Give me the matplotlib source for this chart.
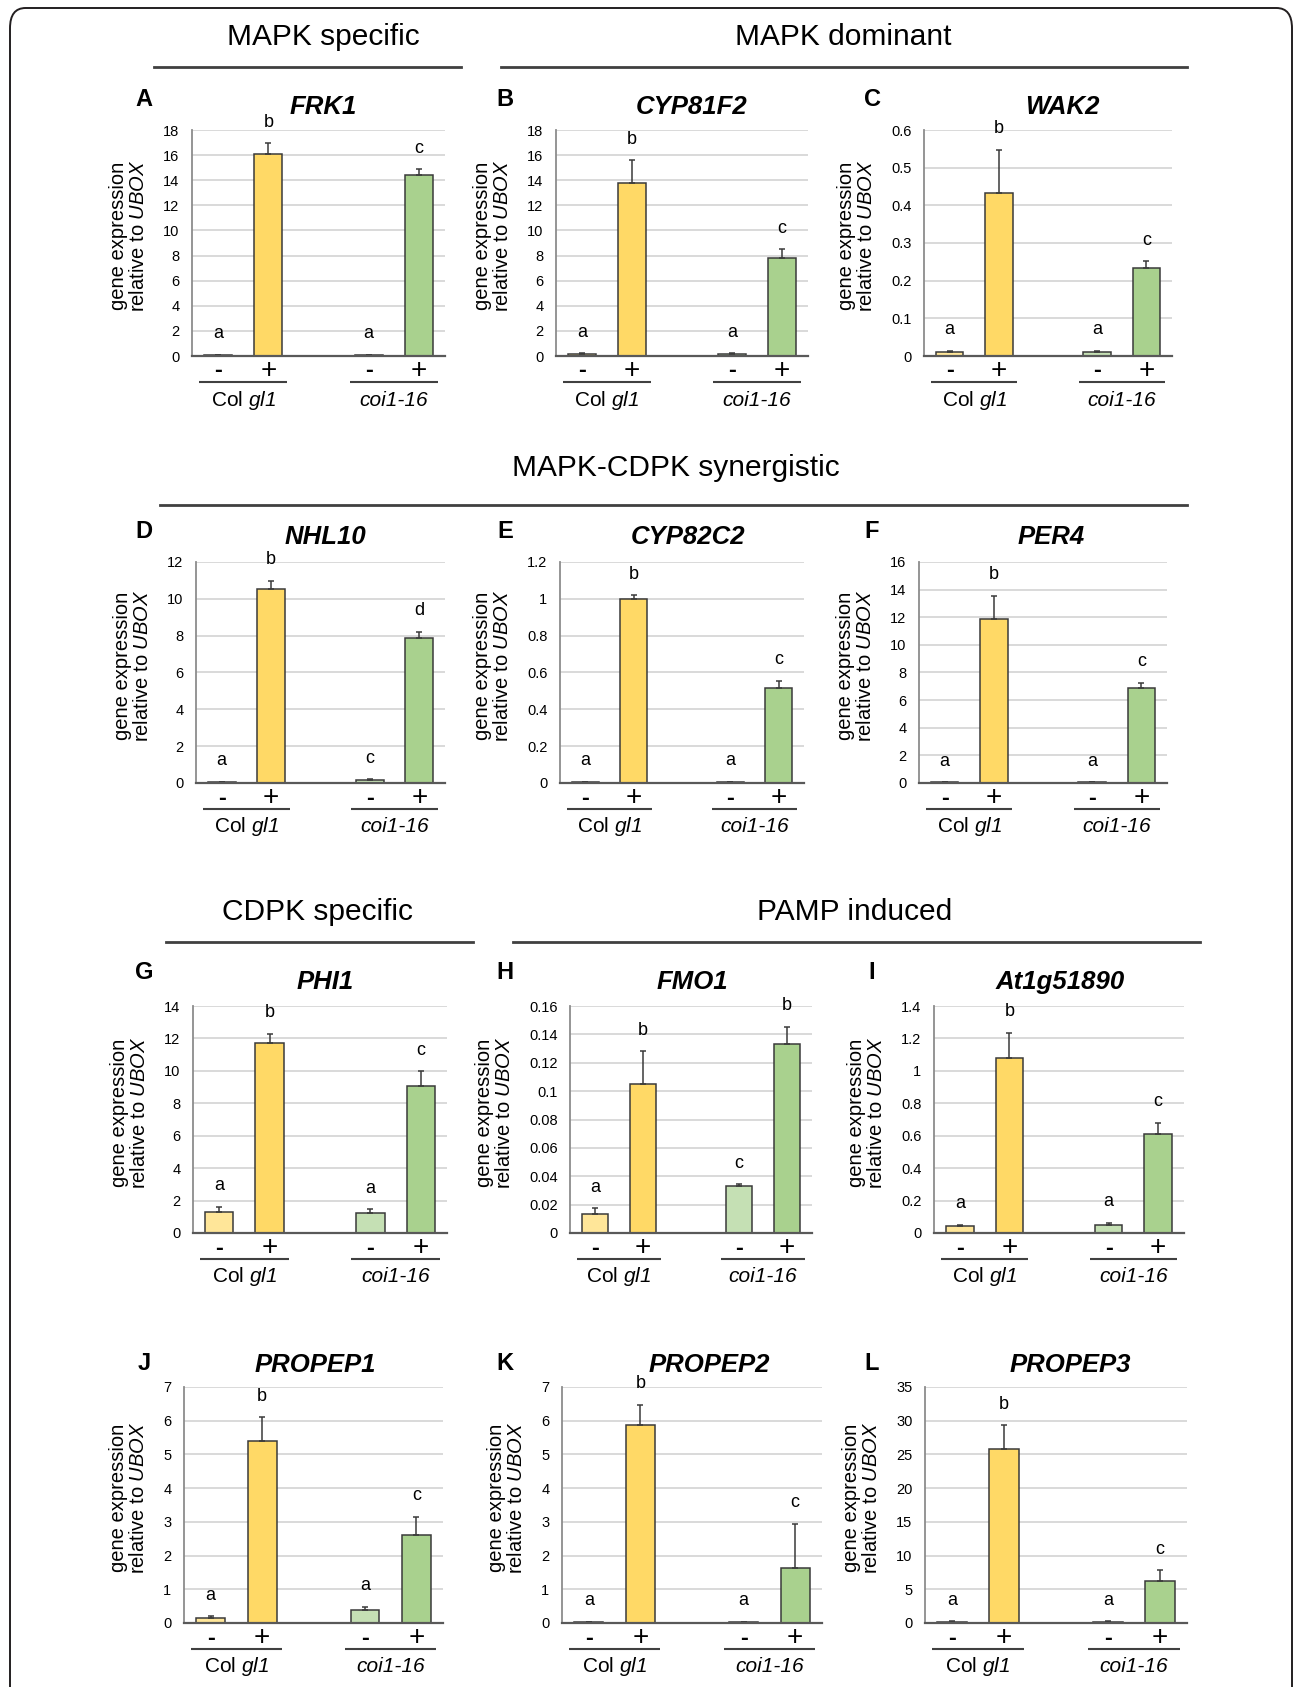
import matplotlib
matplotlib.use('Agg')
import matplotlib.pyplot as plt
from matplotlib import transforms
from matplotlib.patches import FancyBboxPatch
from matplotlib.lines import Line2D
from matplotlib.ticker import FuncFormatter, MultipleLocator

plt.rcParams['font.family'] = ['Liberation Sans', 'DejaVu Sans']
plt.rcParams['mathtext.fontset'] = 'custom'
plt.rcParams['mathtext.rm'] = 'Liberation Sans'
plt.rcParams['mathtext.it'] = 'Liberation Sans:italic'
plt.rcParams['mathtext.sf'] = 'Liberation Sans:italic'
plt.rcParams['mathtext.bf'] = 'Liberation Sans:bold'

# ---------------- data ----------------
panel_letters = ['A', 'B', 'C', 'D', 'E', 'F', 'G', 'H', 'I', 'J', 'K', 'L']
genes = ['FRK1', 'CYP81F2', 'WAK2', 'NHL10', 'CYP82C2', 'PER4',
         'PHI1', 'FMO1', 'At1g51890', 'PROPEP1', 'PROPEP2', 'PROPEP3']
conditions = ['-', '+', '-', '+']
genotypes = ['Col $\\mathsf{gl1}$', 'coi1-16']

# order of bars: Col gl1 (-), Col gl1 (+), coi1-16 (-), coi1-16 (+)
means = {
    'FRK1':      [0.08, 16.1, 0.08, 14.45],
    'CYP81F2':   [0.18, 13.8, 0.15, 7.77],
    'WAK2':      [0.010, 0.434, 0.0115, 0.233],
    'NHL10':     [0.05, 10.56, 0.18, 7.9],
    'CYP82C2':   [0.005, 1.0, 0.005, 0.514],
    'PER4':      [0.05, 11.84, 0.05, 6.88],
    'PHI1':      [1.28, 11.73, 1.23, 9.09],
    'FMO1':      [0.0136, 0.105, 0.0328, 0.1333],
    'At1g51890': [0.041, 1.081, 0.049, 0.613],
    'PROPEP1':   [0.16, 5.39, 0.40, 2.6],
    'PROPEP2':   [0.03, 5.86, 0.03, 1.63],
    'PROPEP3':   [0.2, 25.75, 0.2, 6.25],
}
errors = {
    'FRK1':      [0.02, 0.85, 0.02, 0.43],
    'CYP81F2':   [0.05, 1.8, 0.05, 0.72],
    'WAK2':      [0.004, 0.113, 0.003, 0.018],
    'NHL10':     [0.01, 0.41, 0.02, 0.3],
    'CYP82C2':   [0.001, 0.02, 0.001, 0.04],
    'PER4':      [0.01, 1.7, 0.01, 0.37],
    'PHI1':      [0.33, 0.55, 0.25, 0.89],
    'FMO1':      [0.004, 0.023, 0.0016, 0.012],
    'At1g51890': [0.01, 0.155, 0.014, 0.066],
    'PROPEP1':   [0.04, 0.72, 0.08, 0.55],
    'PROPEP2':   [0.01, 0.61, 0.01, 1.31],
    'PROPEP3':   [0.05, 3.55, 0.05, 1.55],
}
sig = {
    'FRK1': ['a', 'b', 'a', 'c'], 'CYP81F2': ['a', 'b', 'a', 'c'],
    'WAK2': ['a', 'b', 'a', 'c'], 'NHL10': ['a', 'b', 'c', 'd'],
    'CYP82C2': ['a', 'b', 'a', 'c'], 'PER4': ['a', 'b', 'a', 'c'],
    'PHI1': ['a', 'b', 'a', 'c'], 'FMO1': ['a', 'b', 'c', 'b'],
    'At1g51890': ['a', 'b', 'a', 'c'], 'PROPEP1': ['a', 'b', 'a', 'c'],
    'PROPEP2': ['a', 'b', 'a', 'c'], 'PROPEP3': ['a', 'b', 'a', 'c'],
}
y_max = {'FRK1': 18, 'CYP81F2': 18, 'WAK2': 0.6, 'NHL10': 12, 'CYP82C2': 1.2,
         'PER4': 16, 'PHI1': 14, 'FMO1': 0.16, 'At1g51890': 1.4,
         'PROPEP1': 7, 'PROPEP2': 7, 'PROPEP3': 35}
y_step = {'FRK1': 2, 'CYP81F2': 2, 'WAK2': 0.1, 'NHL10': 2, 'CYP82C2': 0.2,
          'PER4': 2, 'PHI1': 2, 'FMO1': 0.02, 'At1g51890': 0.2,
          'PROPEP1': 1, 'PROPEP2': 1, 'PROPEP3': 5}

headers = ['MAPK specific', 'MAPK dominant', 'MAPK-CDPK synergistic',
           'CDPK specific', 'PAMP induced']

# ---------------- layout (pixels) ----------------
W, H = 1295, 1687
DPI = 100
bar_x = [0, 1, 3, 4]
group_x = [0.5, 3.5]
colors = ['#FFE699', '#FFD966', '#C5E0B4', '#A9D18E']

# axes boxes: left, top, right, bottom
boxes = [
    (192, 130, 445, 356), (556, 130, 808, 356), (924, 130, 1172, 356),
    (196, 562, 445, 783), (560, 562, 804, 783), (919, 562, 1167, 783),
    (193, 1006, 447, 1233), (570, 1006, 812, 1233), (934, 1006, 1184, 1233),
    (184, 1387, 443, 1623), (562, 1387, 822, 1623), (925, 1387, 1187, 1623),
]
letter_pos_x = [144, 505, 872]
letter_pos_y = [100, 532, 973, 1363]
title_y = [107, 537, 982, 1365]
title_x = [323, 692, 1062, 325, 688, 1051, 325, 692, 1060, 315, 709, 1070]

header_layout = [  # text center x, text y, line x0, line x1, line y
    (323, 37, 154, 461, 67),
    (843, 37, 501, 1187, 67),
    (676, 468, 160, 1187, 505),
    (317, 912, 166, 473, 942),
    (855, 912, 513, 1200, 942),
]

fig = plt.figure(figsize=(W / DPI, H / DPI), dpi=DPI)
fig.patch.set_facecolor('white')


def fx(x):
    return x / W


def fy(y):
    return 1 - y / H


# border
border = FancyBboxPatch((fx(10), fy(1720)), fx(1292) - fx(10), fy(8) - fy(1720),
                        boxstyle='round,pad=0,rounding_size=0.012',
                        transform=fig.transFigure, facecolor='none',
                        edgecolor='#231F20', linewidth=1.4, zorder=0)
fig.add_artist(border)

for (tx, ty, lx0, lx1, ly), htxt in zip(header_layout, headers):
    fig.text(fx(tx), fy(ty), htxt, ha='center', va='center', fontsize=21.5)
    fig.add_artist(Line2D([fx(lx0), fx(lx1)], [fy(ly), fy(ly)],
                          transform=fig.transFigure, color='#404040', lw=2.0))


def below(ax, dy):
    base = transforms.blended_transform_factory(ax.transData, ax.transAxes)
    return base + transforms.ScaledTranslation(0, -dy / DPI, fig.dpi_scale_trans)


def fmt(v, pos):
    return '%g' % round(v, 6)


for i, gene in enumerate(genes):
    l, t, r, b = boxes[i]
    ax = fig.add_axes([fx(l), fy(b), fx(r) - fx(l), fy(t) - fy(b)])
    vals = means[gene]
    errs = errors[gene]
    ax.bar(bar_x, vals, width=0.56, color=colors, edgecolor='#3A3A3A',
           linewidth=1.1, zorder=3)
    ax.errorbar(bar_x, vals, yerr=[[0] * 4, errs], fmt='none',
                ecolor='#3A3A3A', elinewidth=1.1, capsize=2.4, capthick=1.1,
                zorder=4)
    ax.set_xlim(-0.52, 4.52)
    ax.set_ylim(0, y_max[gene])
    ax.yaxis.set_major_locator(MultipleLocator(y_step[gene]))
    ax.yaxis.set_major_formatter(FuncFormatter(fmt))
    ax.set_xticks([])
    ax.tick_params(axis='y', length=0, pad=9, labelsize=10.5)
    ax.yaxis.grid(True, color='#D9D9D9', lw=1.4)
    ax.set_axisbelow(True)
    for s in ['top', 'right']:
        ax.spines[s].set_visible(False)
    ax.spines['left'].set_color('#8C8C8C')
    ax.spines['left'].set_linewidth(1.3)
    ax.spines['bottom'].set_color('#595959')
    ax.spines['bottom'].set_linewidth(1.6)
    ax.spines['bottom'].set_zorder(5)
    ax.set_ylabel('gene expression\nrelative to $\\mathit{UBOX}$',
                  fontsize=14.5, labelpad=11, linespacing=1.05, y=0.53)

    # significance letters
    for x, v, e, s in zip(bar_x, vals, errs, sig[gene]):
        ax.annotate(s, xy=(x, v + e), xytext=(0, 21), textcoords='offset pixels',
                    ha='center', va='center', fontsize=13, zorder=6)

    # treatment labels
    for x, c in zip(bar_x, conditions):
        ax.text(x, 0, c, transform=below(ax, 15), ha='center', va='center',
                fontsize=20 if c == '+' else 17,
                fontweight='bold' if c == '-' else 'normal')
    # group underline + genotype labels
    for gx, gl in zip(group_x, genotypes):
        ax.plot([gx - 0.88, gx + 0.88], [0, 0], transform=below(ax, 26),
                color='#404040', lw=1.5, clip_on=False, solid_capstyle='butt')
        ax.text(gx, 0, gl, transform=below(ax, 44), ha='center', va='center',
                fontsize=15, fontstyle='italic' if '$' not in gl else 'normal')

    row, col = divmod(i, 3)
    fig.text(fx(letter_pos_x[col]), fy(letter_pos_y[row]), panel_letters[i],
             ha='center', va='center', fontsize=17, fontweight='bold')
    fig.text(fx(title_x[i]), fy(title_y[row]), gene, ha='center', va='center',
             fontsize=18.5, fontweight='bold', fontstyle='italic')

fig.savefig('out.png', dpi=DPI, facecolor='white')
